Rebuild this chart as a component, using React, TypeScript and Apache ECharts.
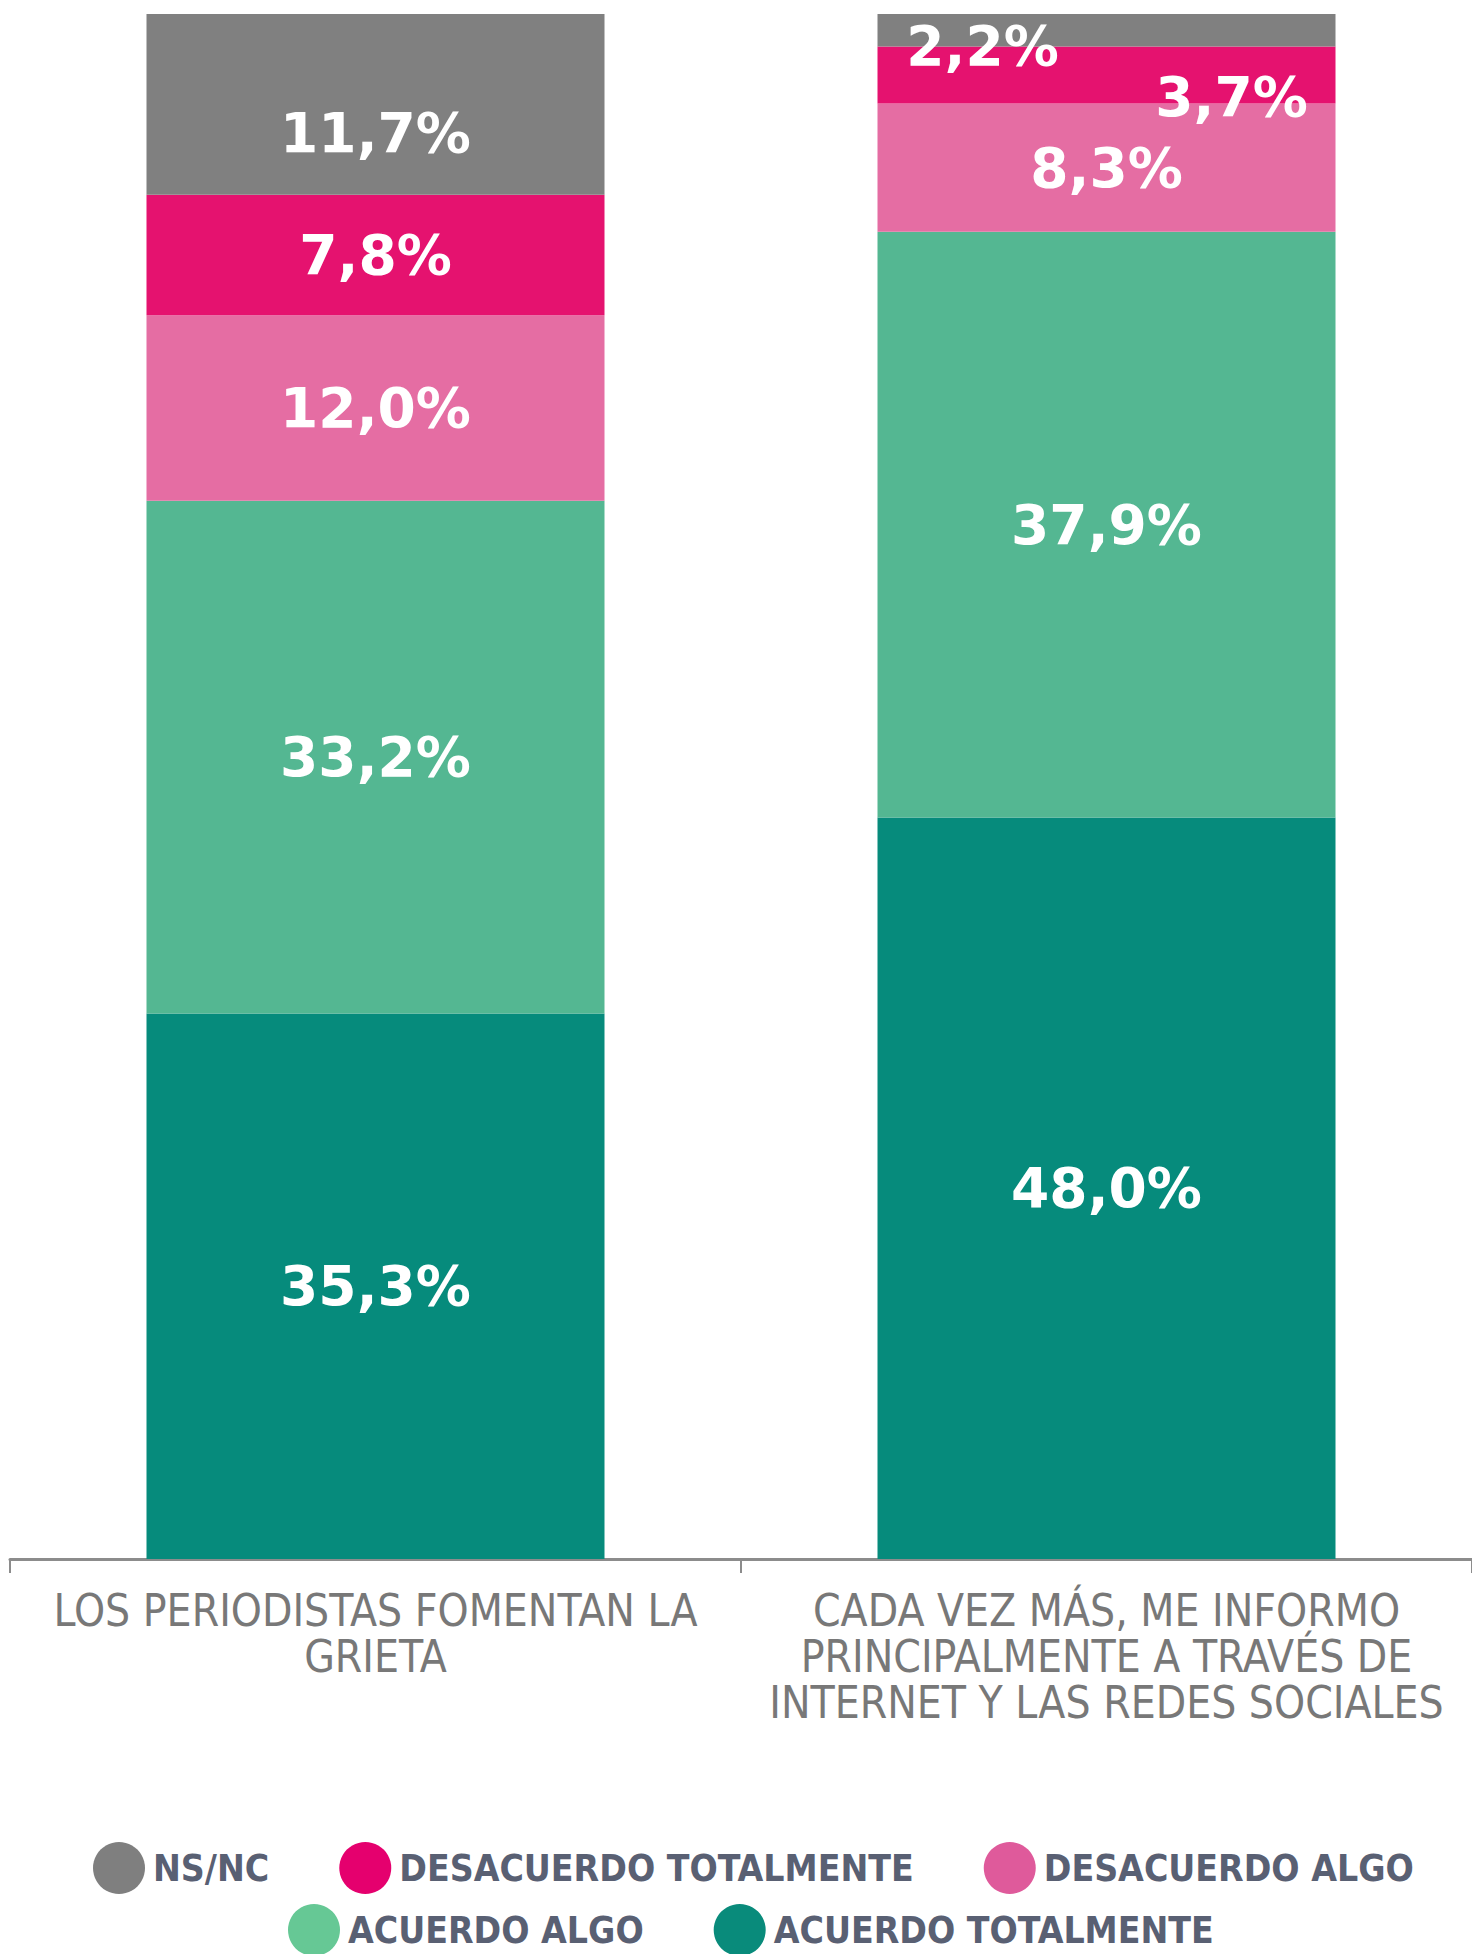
import React, { useEffect, useRef } from "react";
import * as echarts from "echarts";

const categories = [
  "LOS PERIODISTAS FOMENTAN LA\nGRIETA",
  "CADA VEZ MÁS, ME INFORMO\nPRINCIPALMENTE A TRAVÉS DE\nINTERNET Y LAS REDES SOCIALES",
];

const seriesNames = [
  "ACUERDO TOTALMENTE",
  "ACUERDO ALGO",
  "DESACUERDO ALGO",
  "DESACUERDO TOTALMENTE",
  "NS/NC",
];

const acuerdoTotalmente = [35.3, 48.0];
const acuerdoAlgo = [33.2, 37.9];
const desacuerdoAlgo = [12.0, 8.3];
const desacuerdoTotalmente = [7.8, 3.7];
const nsnc = [11.7, 2.2];

const barColors = ["#068b7c", "#54b792", "#e56da3", "#e5126f", "#808080"];
const legendColors = ["#098b7b", "#66c895", "#df5a9b", "#e5006e", "#7f7f7f"];

const legendRow1 = ["NS/NC", "DESACUERDO TOTALMENTE", "DESACUERDO ALGO"];
const legendRow2 = ["ACUERDO ALGO", "ACUERDO TOTALMENTE"];

const CONDENSED = "'DejaVu Sans Condensed', 'Liberation Sans Narrow', 'Roboto', sans-serif";
const LABEL_FONT = "'DejaVu Sans', sans-serif";

export default function App() {
  const ref = useRef<HTMLDivElement>(null);

  useEffect(() => {
    document.body.style.margin = "0";
    if (!ref.current) return;
    const chart = echarts.init(ref.current, undefined, { renderer: "svg" });

    const values = [acuerdoTotalmente, acuerdoAlgo, desacuerdoAlgo, desacuerdoTotalmente, nsnc];
    // per-series, per-bar label offsets (layout only)
    const offsets: Record<number, (number[] | null)[]> = {
      3: [null, [125, 22]],
      4: [[0, 29], [-124, 16]],
    };

    const fmt = (v: number) => v.toFixed(1).replace(".", ",") + "%";

    const series = seriesNames.map((name, si) => ({
      name,
      type: "bar",
      stack: "total",
      barWidth: 458,
      itemStyle: { color: barColors[si] },
      label: {
        show: true,
        position: "inside",
        color: "#ffffff",
        fontFamily: LABEL_FONT,
        fontWeight: "bold",
        fontSize: 55,
        formatter: (p: any) => fmt(p.value),
      },
      data: values[si].map((v, di) => {
        const off = offsets[si] ? offsets[si][di] : null;
        return off ? { value: v, label: { offset: off } } : { value: v };
      }),
    }));

    const legendBase = {
      icon: "circle",
      itemWidth: 52,
      itemHeight: 52,
      itemGap: 70,
      width: 1400,
      textStyle: {
        color: "#596073",
        fontFamily: CONDENSED,
        fontSize: 37,
        fontWeight: "bold",
        padding: [0, 0, 0, 3],
      },
    };

    const mkLegend = (names: string[]) =>
      names.map((n) => ({
        name: n,
        itemStyle: { color: legendColors[seriesNames.indexOf(n)] },
      }));

    chart.setOption({
      animation: false,
      backgroundColor: "#ffffff",
      grid: { left: 10, right: 0, top: 14, bottom: 395, containLabel: false },
      legend: [
        { ...legendBase, left: 88, top: 1837, data: mkLegend(legendRow1) },
        { ...legendBase, left: 283, top: 1899, data: mkLegend(legendRow2) },
      ],
      xAxis: {
        type: "category",
        data: categories,
        axisLine: { show: true, lineStyle: { color: "#8c8c8c", width: 3 } },
        axisTick: { show: true, length: 14, lineStyle: { color: "#8c8c8c", width: 2 } },
        axisLabel: {
          interval: 0,
          color: "#787878",
          fontFamily: CONDENSED,
          fontSize: 44,
          lineHeight: 46,
          margin: 28,
          align: "center",
        },
      },
      yAxis: {
        type: "value",
        min: 0,
        max: 100,
        show: false,
        splitLine: { show: false },
      },
      series,
    });

    return () => chart.dispose();
  }, []);

  return <div ref={ref} style={{ width: 1472, height: 1954 }} />;
}
